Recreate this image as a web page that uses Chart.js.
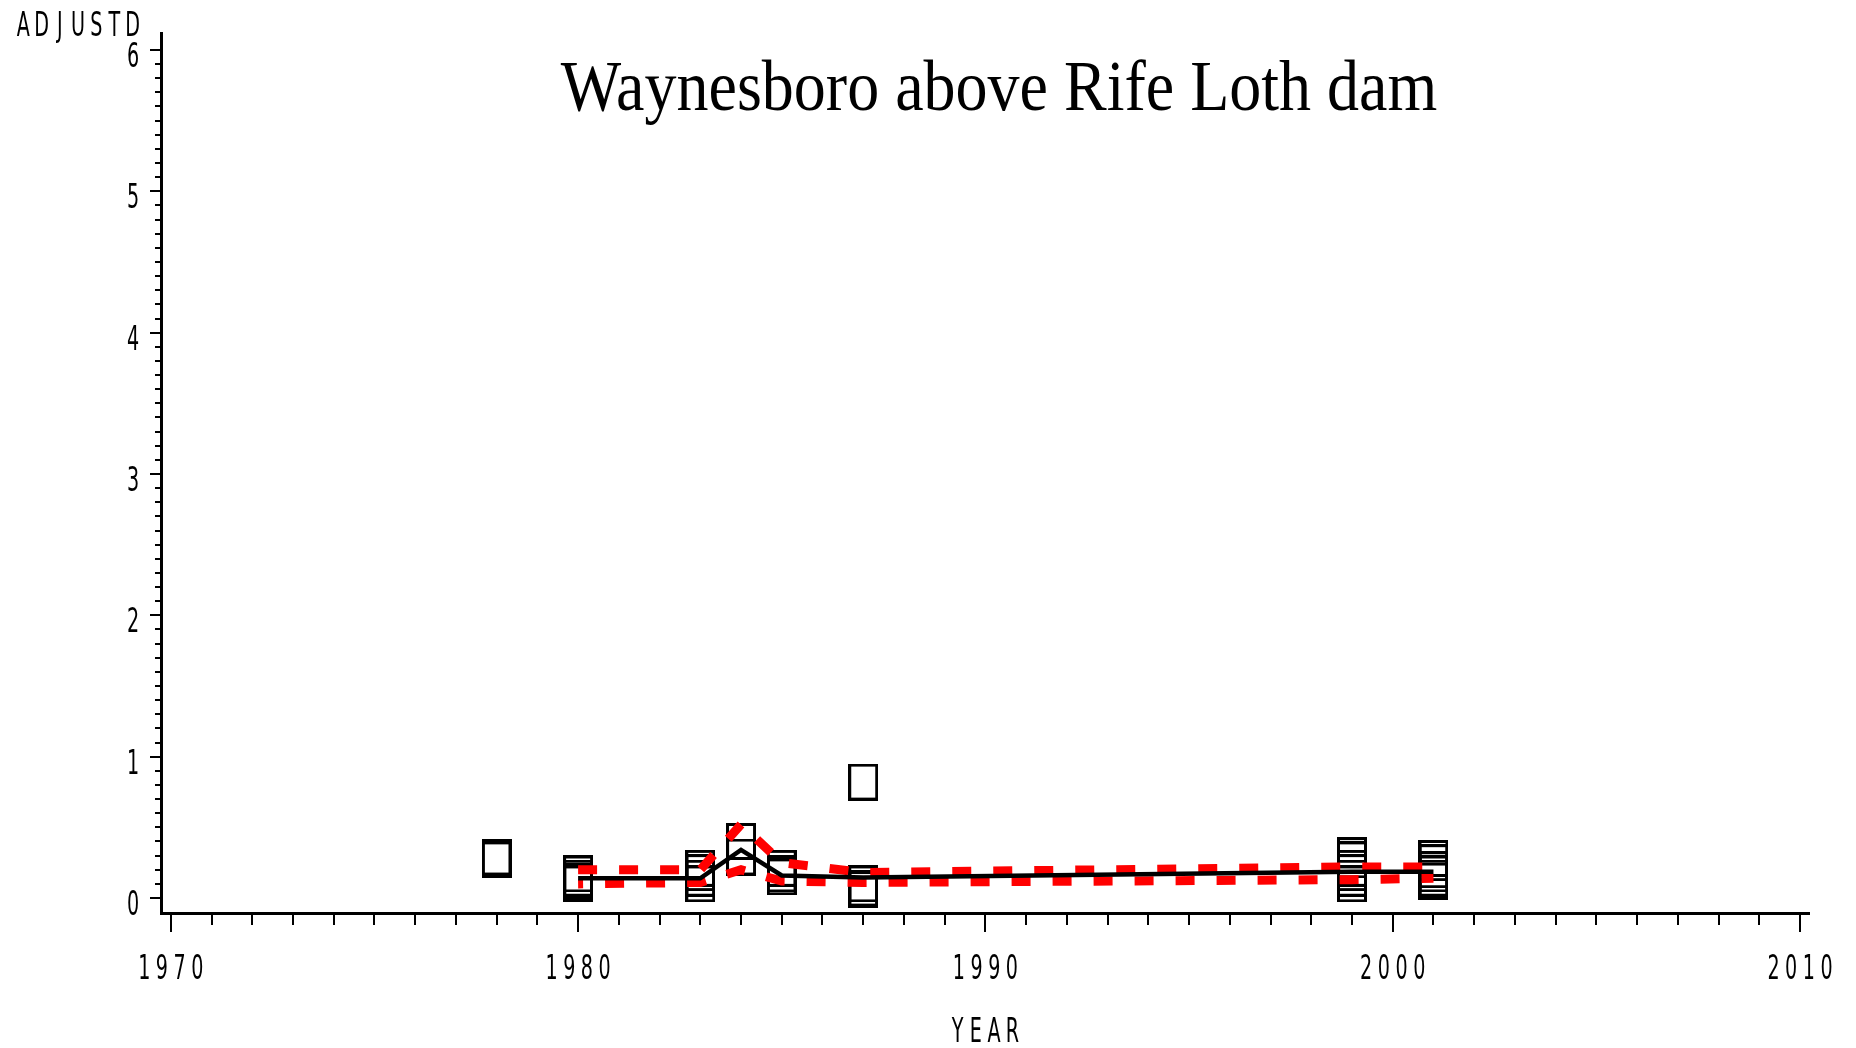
<!DOCTYPE html>
<html lang="en">
<head>
    <meta charset="UTF-8">
    <title>Waynesboro above Rife Loth dam</title>
    <script src="https://cdn.jsdelivr.net/npm/chart.js@4.4.0/dist/chart.umd.min.js"></script>
    <style>
        body {
            margin: 0;
            background-color: #fff;
        }
        #chart {
            display: block;
        }
    </style>
</head>
<body>
    <canvas id="chart" width="1856" height="1048"></canvas>

    <script>
        // Axis labels
        const xTickLabels = ['1970', '1980', '1990', '2000', '2010'];
        const yTickLabels = ['0', '1', '2', '3', '4', '5', '6'];

        // Observed values (one box per sample)
        const obsYears = [1978, 1978,
            1980, 1980, 1980, 1980,
            1983, 1983, 1983, 1983,
            1984, 1984,
            1985, 1985, 1985,
            1987, 1987, 1987, 1987,
            1999, 1999, 1999, 1999, 1999, 1999,
            2001, 2001, 2001, 2001, 2001, 2001];
        const obsValues = [0.29, 0.27,
            0.17, 0.14, 0.12, 0.10,
            0.21, 0.18, 0.14, 0.10,
            0.40, 0.29,
            0.21, 0.17, 0.15,
            0.82, 0.10, 0.07, 0.06,
            0.30, 0.27, 0.21, 0.18, 0.14, 0.10,
            0.28, 0.25, 0.20, 0.17, 0.14, 0.12];

        // Fitted line and its upper / lower band
        const fitYears = [1980, 1983, 1984, 1985, 1987, 1999, 2001];
        const fitMean  = [0.14, 0.14, 0.34, 0.16, 0.145, 0.185, 0.185];
        const fitUpper = [0.20, 0.20, 0.52, 0.25, 0.18, 0.22, 0.22];
        const fitLower = [0.10, 0.11, 0.20, 0.12, 0.11, 0.13, 0.14];

        const X_MIN = 1969.76, X_MAX = 2010.22;
        const Y_MIN = -0.106, Y_MAX = 6.12;

        function pairs(xs, ys) {
            return xs.map((x, i) => ({ x: x, y: ys[i] }));
        }

        // open rectangle marker, a bit taller than wide
        function makeBox() {
            const c = document.createElement('canvas');
            c.width = 30;
            c.height = 37;
            const g = c.getContext('2d');
            g.strokeStyle = '#000';
            g.lineWidth = 3;
            g.strokeRect(1.5, 1.5, 27, 34);
            return c;
        }

        // narrow, tall lettering like the old SAS device font
        function sasText(ctx, text, cx, cy, pitch) {
            ctx.save();
            ctx.fillStyle = '#000';
            ctx.font = '33px "DejaVu Sans"';
            ctx.textAlign = 'center';
            ctx.textBaseline = 'alphabetic';
            const start = cx - (text.length - 1) * pitch / 2;
            for (let i = 0; i < text.length; i++) {
                ctx.save();
                ctx.translate(start + i * pitch, cy + 12);
                ctx.scale(0.58, 1);
                ctx.fillText(text[i], 0, 0);
                ctx.restore();
            }
            ctx.restore();
        }

        const textPlugin = {
            id: 'sasText',
            afterDraw(chart) {
                const ctx = chart.ctx;
                const xs = chart.scales.x;
                const ys = chart.scales.y;

                xTickLabels.forEach(l => sasText(ctx, l, xs.getPixelForValue(Number(l)), 967, 17.7));
                yTickLabels.forEach(l => sasText(ctx, l, 133, ys.getPixelForValue(Number(l)) + 5, 17.7));

                sasText(ctx, 'ADJUSTD', 78, 24, 18.2);
                sasText(ctx, 'YEAR', (chart.chartArea.left + chart.chartArea.right) / 2, 1030, 18.3);

                // title
                ctx.save();
                ctx.fillStyle = '#000';
                ctx.font = '64px "Liberation Serif"';
                ctx.textAlign = 'center';
                ctx.textBaseline = 'alphabetic';
                ctx.translate(999, 110);
                ctx.scale(1, 1.12);
                ctx.fillText('Waynesboro above Rife Loth dam', 0, 0);
                ctx.restore();
            }
        };

        const ctx = document.getElementById('chart').getContext('2d');

        new Chart(ctx, {
            type: 'line',
            data: {
                datasets: [
                    {
                        label: 'Fit',
                        data: pairs(fitYears, fitMean),
                        xAxisID: 'x', yAxisID: 'y',
                        showLine: true,
                        borderColor: '#000',
                        borderWidth: 4.5,
                        pointRadius: 0,
                        tension: 0,
                        fill: false,
                        order: 0
                    },
                    {
                        label: 'Upper',
                        data: pairs(fitYears, fitUpper),
                        xAxisID: 'x', yAxisID: 'y',
                        showLine: true,
                        borderColor: '#ff0000',
                        borderWidth: 9,
                        borderDash: [19, 22],
                        pointRadius: 0,
                        tension: 0,
                        fill: false,
                        order: 1
                    },
                    {
                        label: 'Lower',
                        data: pairs(fitYears, fitLower),
                        xAxisID: 'x', yAxisID: 'y',
                        showLine: true,
                        borderColor: '#ff0000',
                        borderWidth: 9,
                        borderDash: [19, 22],
                        borderDashOffset: 14,
                        pointRadius: 0,
                        tension: 0,
                        fill: false,
                        order: 1
                    },
                    {
                        label: 'ADJUSTD',
                        data: pairs(obsYears, obsValues),
                        xAxisID: 'x', yAxisID: 'y',
                        showLine: false,
                        pointStyle: makeBox(),
                        pointRadius: 15,
                        order: 2
                    }
                ]
            },
            options: {
                responsive: false,
                animation: false,
                events: [],
                layout: {
                    padding: { left: 0, top: 33, right: 47, bottom: 0 }
                },
                plugins: {
                    legend: { display: false },
                    tooltip: { enabled: false }
                },
                scales: {
                    x: {
                        type: 'linear',
                        axis: 'x',
                        position: 'bottom',
                        weight: 1,
                        min: X_MIN,
                        max: X_MAX,
                        ticks: { display: false, stepSize: 10, includeBounds: false },
                        grid: { drawOnChartArea: false, color: '#000', lineWidth: 2, tickLength: 19 },
                        border: { color: '#000', width: 3 },
                        afterFit(s) { s.height = 135; }
                    },
                    xMinor: {
                        type: 'linear',
                        axis: 'x',
                        position: 'bottom',
                        weight: 0,
                        min: X_MIN,
                        max: X_MAX,
                        ticks: { display: false, stepSize: 1, includeBounds: false },
                        grid: { drawOnChartArea: false, color: '#000', lineWidth: 2, tickLength: 12 },
                        border: { display: false },
                        afterFit(s) { s.height = 0; }
                    },
                    y: {
                        type: 'linear',
                        axis: 'y',
                        position: 'left',
                        weight: 1,
                        min: Y_MIN,
                        max: Y_MAX,
                        ticks: { display: false, stepSize: 1, includeBounds: false },
                        grid: { drawOnChartArea: false, color: '#000', lineWidth: 2, tickLength: 11 },
                        border: { color: '#000', width: 3 },
                        afterFit(s) { s.width = 161; }
                    },
                    yMinor: {
                        type: 'linear',
                        axis: 'y',
                        position: 'left',
                        weight: 0,
                        min: Y_MIN,
                        max: Y_MAX,
                        ticks: { display: false, stepSize: 0.1, includeBounds: false },
                        grid: { drawOnChartArea: false, color: '#000', lineWidth: 2, tickLength: 6 },
                        border: { display: false },
                        afterBuildTicks(s) {
                            s.ticks = s.ticks.filter(t => t.value >= -1e-9 && t.value <= 6 + 1e-9);
                        },
                        afterFit(s) { s.width = 0; }
                    }
                }
            },
            plugins: [textPlugin]
        });
    </script>
</body>
</html>
